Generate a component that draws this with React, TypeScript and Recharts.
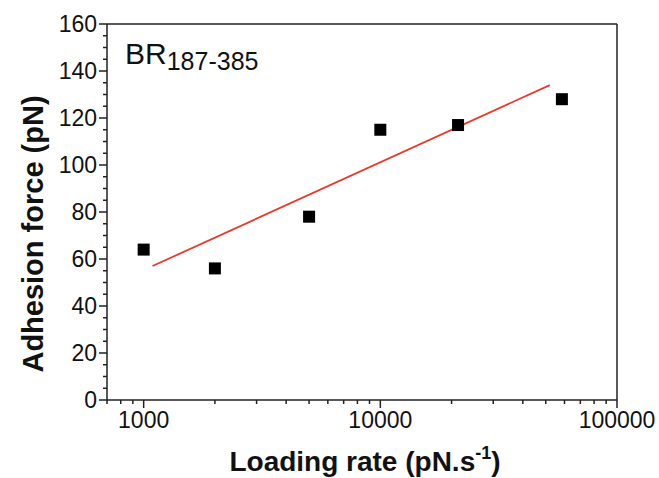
import React from 'react';
import {
  ScatterChart,
  Scatter,
  XAxis,
  YAxis,
  ReferenceLine,
  Label,
} from 'recharts';

// measured points (loading rate pN/s, adhesion force pN)
const loadingRates = [1000, 2000, 5000, 10000, 21300, 58500];
const adhesionForces = [64, 56, 78, 115, 117, 128];

// fitted line end points
const fitRates = [1090, 52000];
const fitForces = [57, 134];

const xMajorTicks = [1000, 10000, 100000];
const xTicks = [
  700, 800, 900, 1000, 2000, 3000, 4000, 5000, 6000, 7000, 8000, 9000, 10000,
  20000, 30000, 40000, 50000, 60000, 70000, 80000, 90000, 100000,
];
const yTicks = Array.from({ length: 33 }, (_, i) => i * 5);

const points = loadingRates.map((x, i) => ({ x, y: adhesionForces[i] }));
const fit = fitRates.map((x, i) => ({ x, y: fitForces[i] }));

const FONT = '"Liberation Sans", Arial, sans-serif';
const AXIS = '#222';

const XTick = (props: any) => {
  const { x, y, payload } = props;
  const major = xMajorTicks.includes(payload.value);
  return (
    <g>
      <line x1={x} x2={x} y1={y} y2={y + (major ? 8 : 4)} stroke={AXIS} strokeWidth={1.5} />
      {major && (
        <text x={x} y={y + 28} textAnchor="middle" fontSize={23} fontFamily={FONT} fill="#111">
          {payload.value}
        </text>
      )}
    </g>
  );
};

const YTick = (props: any) => {
  const { x, y, payload } = props;
  const major = payload.value % 20 === 0;
  return (
    <g>
      <line x1={x} x2={x - (major ? 8 : 4)} y1={y} y2={y} stroke={AXIS} strokeWidth={1.5} />
      {major && (
        <text x={x - 10} y={y + 8} textAnchor="end" fontSize={23} fontFamily={FONT} fill="#111">
          {payload.value}
        </text>
      )}
    </g>
  );
};

const Square = (props: any) => (
  <rect x={props.cx - 6} y={props.cy - 6} width={12} height={12} fill="#000" />
);

export default function App() {
  return (
    <div style={{ position: 'absolute', left: 0, top: 0, background: '#fff' }}>
      <ScatterChart width={659} height={478} margin={{ top: 24, right: 42, bottom: 38, left: 47 }}>
        <XAxis
          dataKey="x"
          type="number"
          scale="log"
          domain={[700, 100000]}
          ticks={xTicks}
          interval={0}
          allowDataOverflow
          height={40}
          tickSize={0}
          tickMargin={0}
          tickLine={false}
          tick={<XTick />}
          stroke={AXIS}
          strokeWidth={1.5}
        >
          <Label
            content={(p: any) => (
              <text
                x={p.viewBox.x + p.viewBox.width / 2 + 3}
                y={p.viewBox.y + 71}
                textAnchor="middle"
                fontSize={28}
                fontWeight="bold"
                fontFamily={FONT}
                fill="#111"
              >
                Loading rate (pN.s
                <tspan fontSize={18} dy={-12}>-1</tspan>
                <tspan dy={12}>)</tspan>
              </text>
            )}
          />
        </XAxis>
        <YAxis
          dataKey="y"
          type="number"
          domain={[0, 160]}
          ticks={yTicks}
          interval={0}
          width={60}
          tickSize={0}
          tickMargin={0}
          tickLine={false}
          tick={<YTick />}
          stroke={AXIS}
          strokeWidth={1.5}
        >
          <Label
            content={(p: any) => {
              const cx = 43;
              const cy = p.viewBox.y + p.viewBox.height / 2 + 22;
              return (
                <text
                  x={cx}
                  y={cy}
                  transform={`rotate(-90 ${cx} ${cy})`}
                  textAnchor="middle"
                  fontSize={29}
                  fontWeight="bold"
                  fontFamily={FONT}
                  fill="#111"
                >
                  Adhesion force (pN)
                </text>
              );
            }}
          />
        </YAxis>
        <ReferenceLine y={160} stroke={AXIS} strokeWidth={1.5}>
          <Label
            content={(p: any) => (
              <text x={p.viewBox.x + 18} y={p.viewBox.y + 40} fontSize={30} fontFamily={FONT} fill="#111">
                BR
                <tspan fontSize={25} dy={6}>187-385</tspan>
              </text>
            )}
          />
        </ReferenceLine>
        <ReferenceLine x={100000} stroke={AXIS} strokeWidth={1.5} />
        <Scatter
          data={fit}
          line={{ stroke: '#e8392b', strokeWidth: 1.8 }}
          shape={() => <g />}
          isAnimationActive={false}
        />
        <Scatter data={points} shape={<Square />} fill="#000" isAnimationActive={false} />
      </ScatterChart>
    </div>
  );
}
